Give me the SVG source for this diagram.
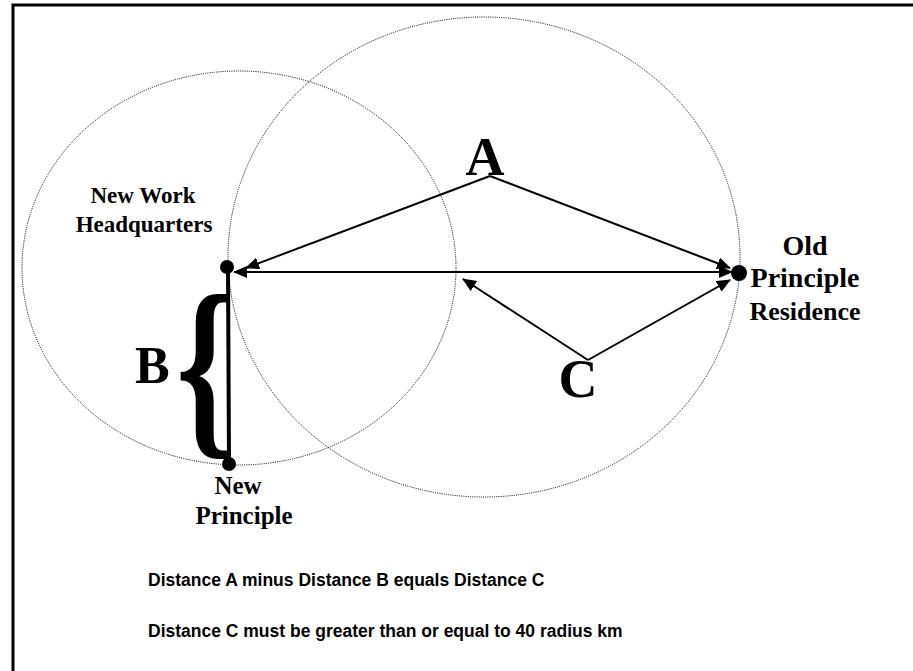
<svg xmlns="http://www.w3.org/2000/svg" width="913" height="671" viewBox="0 0 913 671">
<defs>
<style>
.circ{fill:none;stroke:#000;stroke-width:1;stroke-dasharray:1 1.2}
.ln{fill:none;stroke:#000;stroke-width:2}
.lbl{font-family:"Liberation Serif","Times New Roman",serif;font-weight:bold;fill:#000}
.note{font-family:"Liberation Sans",Arial,sans-serif;font-weight:bold;fill:#000;font-size:17.5px}
</style>
<marker id="ah" viewBox="0 0 14 12" refX="13" refY="6" markerWidth="14" markerHeight="12" markerUnits="userSpaceOnUse" orient="auto-start-reverse">
<path d="M0,0 L14,6 L0,12 z" fill="#000"/>
</marker>
</defs>
<rect x="0" y="0" width="913" height="671" fill="#fff"/>
<rect x="13" y="5" width="920" height="700" fill="none" stroke="#000" stroke-width="3"/>
<g id="circles">
<ellipse class="circ" cx="239" cy="268" rx="217" ry="197"/>
<ellipse class="circ" cx="484" cy="257" rx="256" ry="240"/>
</g>
<g id="connectors">
<line class="ln" x1="234" y1="272" x2="732" y2="272" marker-start="url(#ah)" marker-end="url(#ah)"/>
<line class="ln" x1="490" y1="176" x2="246" y2="268" marker-end="url(#ah)"/>
<line class="ln" x1="490" y1="176" x2="730" y2="268" marker-end="url(#ah)"/>
<line class="ln" x1="588" y1="360" x2="463" y2="279" marker-end="url(#ah)"/>
<line class="ln" x1="588" y1="360" x2="730" y2="280" marker-end="url(#ah)"/>
<line x1="228" y1="268" x2="229" y2="464" stroke="#000" stroke-width="4"/>
</g>
<g id="node-hq">
<circle cx="227" cy="267" r="7" fill="#000"/>
<text class="lbl" font-size="23" x="143" y="203" text-anchor="middle">New Work</text>
<text class="lbl" font-size="23" x="144" y="232" text-anchor="middle">Headquarters</text>
</g>
<g id="node-new-principle">
<circle cx="229" cy="464" r="7" fill="#000"/>
<text class="lbl" font-size="25" x="238" y="494" text-anchor="middle">New</text>
<text class="lbl" font-size="25" x="244" y="524" text-anchor="middle">Principle</text>
</g>
<g id="node-old-residence">
<circle cx="739" cy="273" r="8" fill="#000"/>
<text class="lbl" font-size="28" x="805" y="255" text-anchor="middle">Old</text>
<text class="lbl" font-size="28" x="805" y="287" text-anchor="middle">Principle</text>
<text class="lbl" font-size="26" x="805" y="320" text-anchor="middle">Residence</text>
</g>
<g id="label-a"><text class="lbl" font-size="54" x="485" y="175" text-anchor="middle">A</text></g>
<g id="label-c"><text class="lbl" font-size="54" x="578" y="397" text-anchor="middle">C</text></g>
<g id="label-b">
<text class="lbl" font-size="52" x="135" y="383">B</text>
<text class="lbl" font-size="175" font-weight="normal" transform="translate(176,432) scale(0.82,1.14)" x="0" y="0">{</text>
</g>
<g id="notes">
<text class="note" x="148" y="586">Distance A minus Distance B equals Distance C</text>
<text class="note" x="148" y="637">Distance C must be greater than or equal to 40 radius km</text>
</g>
</svg>
